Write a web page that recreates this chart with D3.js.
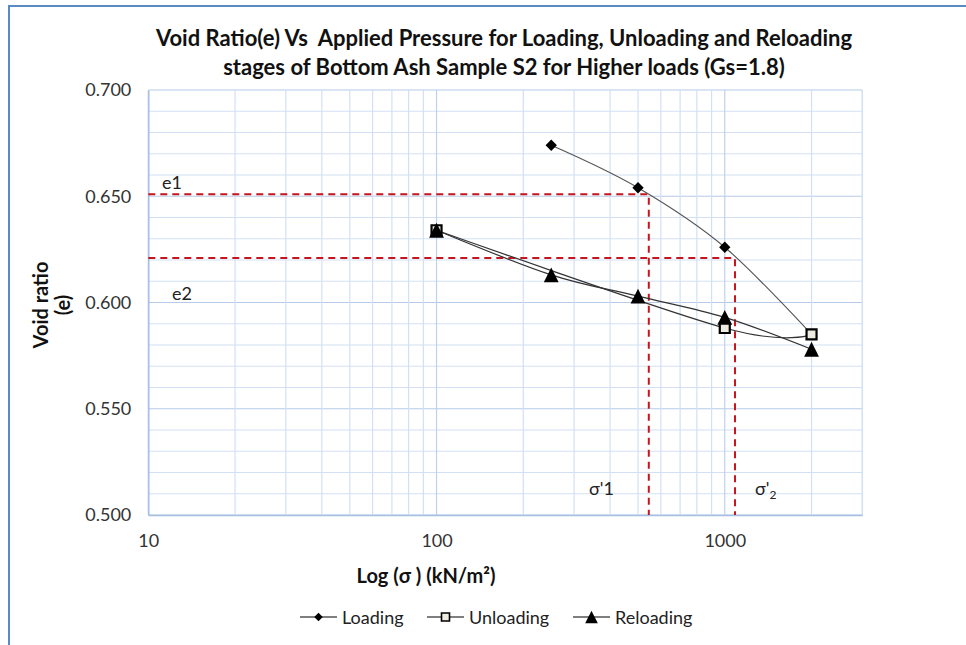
<!DOCTYPE html>
<html>
<head>
<meta charset="utf-8">
<script src="https://cdn.jsdelivr.net/npm/d3@7"></script>
<style>
  body { margin: 0; background: #fff; }
  svg { display: block; }
  text { font-family: Lato, "Liberation Sans", sans-serif; white-space: pre; }
</style>
</head>
<body>
<svg id="chart" width="966" height="645"></svg>
<script>
// Oedometer results, bottom ash sample S2 (higher loads)
const pressureLoading = [250, 500, 1000, 2000];
const voidLoading = [0.674, 0.654, 0.626, 0.585];

const pressureUnloading = [2000, 1000, 100];
const voidUnloading = [0.585, 0.588, 0.634];

const pressureReloading = [100, 250, 500, 1000, 2000];
const voidReloading = [0.634, 0.613, 0.603, 0.593, 0.578];

// Construction lines for the two void ratios and their pressures
const e1 = 0.651, sigma1 = 545;
const e2 = 0.621, sigma2 = 1085;

const xTickValues = [10, 100, 1000];
const yTickValues = [0.5, 0.55, 0.6, 0.65, 0.7];

const svg = d3.select("#chart");
const W = 966, H = 645;
const plot = { left: 148.3, right: 862.3, top: 90, bottom: 515 };

const x = d3.scaleLog().domain([10, 3000]).range([plot.left, plot.right]);
const y = d3.scaleLinear().domain([0.5, 0.7]).range([plot.bottom, plot.top]);

// Outer chart frame
svg.append("path")
  .attr("d", `M9,${H} L9,6 L${W},6`)
  .attr("fill", "none")
  .attr("stroke", "#5a8ac6")
  .attr("stroke-width", 2);

// Title
const title = svg.append("text")
  .attr("text-anchor", "middle")
  .attr("font-weight", "bold")
  .attr("font-size", 22)
  .attr("fill", "#111");
title.append("tspan").attr("x", 504).attr("y", 46)
  .text("Void Ratio(e) Vs  Applied Pressure for Loading, Unloading and Reloading");
title.append("tspan").attr("x", 504).attr("y", 75)
  .text("stages of Bottom Ash Sample S2 for Higher loads (Gs=1.8)");

// Gridlines
const grid = svg.append("g");
const minorY = d3.range(0, 21).map(i => 0.5 + i * 0.01);
grid.selectAll("line.hy").data(minorY).join("line")
  .attr("x1", plot.left).attr("x2", plot.right)
  .attr("y1", d => y(d)).attr("y2", d => y(d))
  .attr("stroke", (d, i) => i % 5 === 0 ? "#b6cbe8" : "#d3e0f3")
  .attr("stroke-width", 1.2);

const minorX = [];
for (const dec of [10, 100, 1000]) {
  for (let k = 1; k <= 9; k++) {
    const v = k * dec;
    if (v <= 3000) minorX.push(v);
  }
}
minorX.push(3000);
grid.selectAll("line.vx").data(minorX).join("line")
  .attr("x1", d => x(d)).attr("x2", d => x(d))
  .attr("y1", plot.top).attr("y2", plot.bottom)
  .attr("stroke", d => [10, 100, 1000].includes(d) ? "#bfd2ec" : "#d3e0f3")
  .attr("stroke-width", 1.2);

// Axes
const xAxis = svg.append("g")
  .attr("transform", `translate(0,${plot.bottom})`)
  .call(d3.axisBottom(x).tickValues(xTickValues).tickSize(0).tickPadding(19)
    .tickFormat(d3.format("d")));
const yAxis = svg.append("g")
  .attr("transform", `translate(${plot.left},0)`)
  .call(d3.axisLeft(y).tickValues(yTickValues).tickSize(0).tickPadding(17)
    .tickFormat(d3.format(".3f")));
for (const ax of [xAxis, yAxis]) {
  ax.select(".domain").attr("stroke", "#a6bfe3").attr("stroke-width", 1.5);
  ax.selectAll("text").attr("font-family", "Lato, 'Liberation Sans', sans-serif")
    .attr("font-size", 18).attr("fill", "#333");
}

// Axis titles
svg.append("text")
  .attr("x", 426).attr("y", 583)
  .attr("text-anchor", "middle")
  .attr("font-weight", "bold").attr("font-size", 20).attr("fill", "#111")
  .text("Log (σ ) (kN/m²)");

const yTitle = svg.append("text")
  .attr("transform", "translate(0,305) rotate(-90)")
  .attr("text-anchor", "middle")
  .attr("font-weight", "bold").attr("font-size", 20).attr("fill", "#111");
yTitle.append("tspan").attr("x", 0).attr("y", 48).text("Void ratio");
yTitle.append("tspan").attr("x", 0).attr("y", 70).text("(e)");

// Red dashed construction lines
const guides = svg.append("g")
  .attr("fill", "none")
  .attr("stroke", "#c8141e")
  .attr("stroke-width", 2)
  .attr("stroke-dasharray", "7,5");
const guideLine = d3.line().x(d => x(d[0])).y(d => y(d[1]));
guides.append("path").attr("d", guideLine([[10, e1], [sigma1, e1], [sigma1, 0.5]]));
guides.append("path").attr("d", guideLine([[10, e2], [sigma2, e2], [sigma2, 0.5]]));

// Guide labels
const labels = svg.append("g").attr("font-size", 18).attr("fill", "#222");
labels.append("text").attr("x", 162).attr("y", 189).text("e1");
labels.append("text").attr("x", 172).attr("y", 300).text("e2");
labels.append("text").attr("x", 589).attr("y", 495).text("σ'1");
const s2 = labels.append("text").attr("x", 755).attr("y", 495);
s2.append("tspan").text("σ'");
s2.append("tspan").attr("font-size", 12).attr("dy", 4).text("2");

// Marker shapes
const diamond = {
  draw(ctx, size) {
    const r = Math.sqrt(size / 2);
    ctx.moveTo(0, -r); ctx.lineTo(r, 0); ctx.lineTo(0, r); ctx.lineTo(-r, 0); ctx.closePath();
  }
};
const square = {
  draw(ctx, size) {
    const h = Math.sqrt(size) / 2;
    ctx.rect(-h, -h, 2 * h, 2 * h);
  }
};
const triangle = {
  draw(ctx, size) {
    const h = Math.sqrt(size) / 2;
    ctx.moveTo(0, -h); ctx.lineTo(h, h); ctx.lineTo(-h, h); ctx.closePath();
  }
};

const series = [
  { name: "Loading", p: pressureLoading, e: voidLoading, shape: diamond, size: 64,
    fill: "#000", stroke: "none", sw: 0, line: "#555", lw: 1.1, legendSize: 36 },
  { name: "Unloading", p: pressureUnloading, e: voidUnloading, shape: square, size: 100,
    fill: "#eeece1", stroke: "#000", sw: 2.2, line: "#333", lw: 1.2, legendSize: 64 },
  { name: "Reloading", p: pressureReloading, e: voidReloading, shape: triangle, size: 220,
    fill: "#000", stroke: "none", sw: 0, line: "#333", lw: 1.2, legendSize: 160 }
];

const smooth = d3.line()
  .x(d => x(d[0])).y(d => y(d[1]))
  .curve(d3.curveCardinal.tension(0));

const marks = svg.append("g");
series.forEach(s => {
  const pts = s.p.map((p, i) => [p, s.e[i]]);
  marks.append("path")
    .attr("d", smooth(pts))
    .attr("fill", "none")
    .attr("stroke", s.line)
    .attr("stroke-width", s.lw);
});
series.forEach(s => {
  const pts = s.p.map((p, i) => [p, s.e[i]]);
  marks.append("g").selectAll("path").data(pts).join("path")
    .attr("transform", d => `translate(${x(d[0])},${y(d[1])})`)
    .attr("d", d3.symbol(s.shape, s.size))
    .attr("fill", s.fill)
    .attr("stroke", s.stroke)
    .attr("stroke-width", s.sw);
});

// Legend
const legendX = [300, 427, 573];
const legend = svg.append("g");
series.forEach((s, i) => {
  const g = legend.append("g").attr("transform", `translate(${legendX[i]},617)`);
  g.append("line").attr("x1", 0).attr("x2", 37).attr("stroke", "#000").attr("stroke-width", 1.2);
  g.append("path")
    .attr("transform", "translate(18.5,0)")
    .attr("d", d3.symbol(s.shape, s.legendSize))
    .attr("fill", s.fill)
    .attr("stroke", s.stroke)
    .attr("stroke-width", s.sw === 0 ? 0 : 1.6);
  g.append("text").attr("x", 42).attr("y", 6.5)
    .attr("font-size", 18).attr("fill", "#222")
    .text(s.name);
});
</script>
</body>
</html>
